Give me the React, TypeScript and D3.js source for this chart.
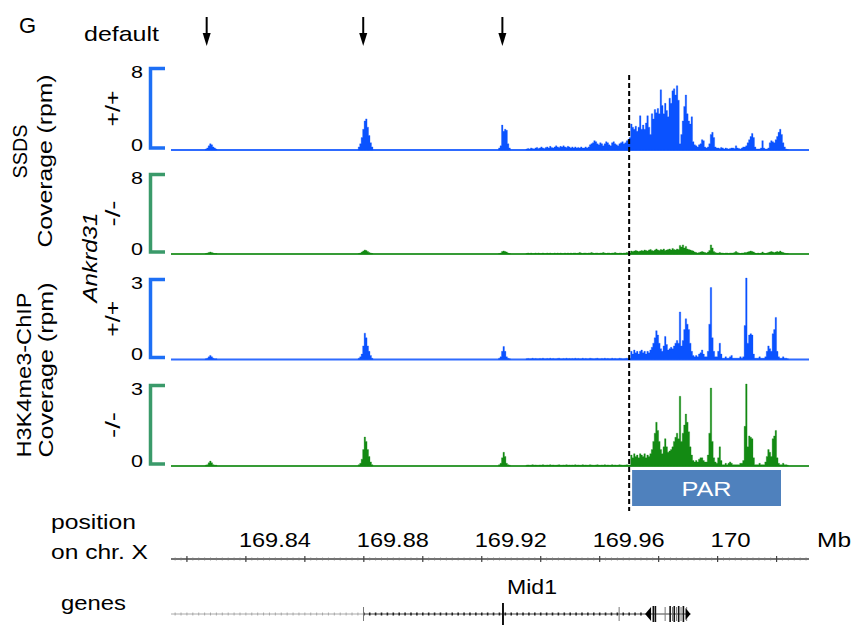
import React from "react";
import * as d3 from "d3";

// coverage is stored like a fixedStep wiggle: start (Mb) + step + values (rpm)
const STEP = 0.0005;
const parStart = 169.935;
const hotspotStarts = [169.8262, 169.8781, 169.9257];

// SSDS +/+
const ssdsWtPar = [
  0.1, 0.15, 0.1, 0.2, 0.15, 0.1, 0.2, 0.25, 0.15, 0.2,
  0.3, 0.2, 0.15, 0.25, 0.3, 0.2, 0.35, 0.25, 0.2, 0.3,
  0.4, 0.3, 0.25, 0.35, 0.3, 0.4, 0.3, 0.25, 0.35, 0.3,
  0.2, 0.3, 0.2, 0.3, 0.2, 0.25, 0.2,
  0.3, 0.2, 0.2, 0.3, 0.2, 0.3, 0.5, 0.6, 0.7,
  0.9, 0.8,
  0.6, 0.5, 0.7, 0.6, 0.4, 0.6, 0.8, 0.7, 0.5, 0.4, 0.7, 0.8, 0.6, 0.5, 0.4, 0.6, 0.7, 0.8, 0.6, 0.7, 0.9, 1.0, 1.2,
  2.5, 2.2, 2.0, 2.3, 1.8, 2.2, 3.3, 2.0, 2.4, 2.0,
  2.6, 3.3, 2.2, 1.5, 3.5, 3.0, 3.9, 3.6, 4.0, 3.5,
  5.8, 4.3, 3.5, 4.5, 3.8, 3.2, 5.0, 4.5, 5.7, 5.9,
  5.3, 6.2, 4.8, 0.6, 1.5, 2.8, 4.2, 5.3, 3.5, 2.8,
  2.5, 3.2,
  0.8, 0.5, 0.4, 0.3, 0.5, 0.6, 1.0, 0.9, 0.3, 0.2, 0.3, 0.6, 1.5, 1.7, 1.2, 0.3, 0.2,
  0.2, 0.15, 0.25, 0.2, 0.1, 0.2, 0.15, 0.1, 0.15, 0.2,
  0.2, 0.15, 0.4, 0.2, 0.15, 0.1, 0.2, 0.3, 0.3, 0.4,
  0.7, 1.0, 1.3, 1.6, 1.2, 0.3, 0.1, 0.1, 0.1, 0.2,
  0.9, 0.2, 0.1, 0.1, 0.2, 0.7, 0.9, 0.8, 0.7, 1.0,
  1.3, 1.7, 2.0, 1.5, 0.7, 0.3, 0.1, 0.05,
];
const ssdsWtHot = [
  [0.1, 0.2, 0.4, 0.6, 0.5, 0.3, 0.2, 0.1],
  [0.3, 0.6, 1.2, 2.0, 2.8, 3.0, 2.2, 1.4, 0.7, 0.3],
  [0.2, 0.4, 2.4, 1.8, 2.0, 1.9, 0.6, 0.2],
];

// SSDS -/-
const ssdsKoPar = [
  0.05, 0.1, 0.05, 0.1, 0.05, 0.05, 0.1, 0.05, 0.1, 0.05,
  0.05, 0.1, 0.05, 0.05, 0.1, 0.05, 0.1, 0.05, 0.05, 0.1,
  0.05, 0.1, 0.05, 0.1, 0.05, 0.05, 0.1, 0.05, 0.1, 0.05,
  0.1, 0.05, 0.1, 0.1, 0.05, 0.1, 0.15, 0.1, 0.05, 0.1,
  0.1, 0.05, 0.1, 0.1, 0.15, 0.1, 0.05, 0.1, 0.1, 0.05,
  0.1, 0.1, 0.15, 0.1, 0.05, 0.1, 0.1, 0.05, 0.1, 0.1,
  0.15, 0.1, 0.05, 0.1, 0.1, 0.05, 0.1, 0.1, 0.15, 0.1,
  0.1,
  0.3, 0.25, 0.3, 0.35, 0.3, 0.25, 0.3, 0.35, 0.3, 0.4,
  0.35, 0.3, 0.4, 0.45, 0.35, 0.3, 0.4, 0.5, 0.4, 0.35,
  0.45, 0.4, 0.5, 0.35, 0.4, 0.45, 0.5, 0.4, 0.55, 0.45,
  0.4, 0.5, 0.45, 0.85, 0.7, 0.9, 0.6, 0.75, 0.5, 0.45,
  0.4, 0.35, 0.3,
  0.2, 0.15, 0.1, 0.15, 0.2, 0.25, 0.2, 0.15, 0.1, 0.2, 0.35, 0.9, 0.6, 0.25, 0.15, 0.1,
  0.1, 0.15, 0.1, 0.1, 0.05, 0.1, 0.1, 0.05, 0.1, 0.1,
  0.1, 0.15, 0.25, 0.15, 0.1, 0.05, 0.1, 0.1, 0.15, 0.15,
  0.2, 0.25, 0.3, 0.25, 0.2, 0.1, 0.05, 0.1, 0.05, 0.1,
  0.2, 0.1, 0.05, 0.1, 0.15, 0.2, 0.25, 0.2, 0.15, 0.2,
  0.25, 0.2, 0.3, 0.2, 0.15, 0.1, 0.05, 0.05,
];
const ssdsKoHot = [
  [0.05, 0.1, 0.15, 0.2, 0.15, 0.1, 0.05, 0.05],
  [0.05, 0.1, 0.2, 0.3, 0.4, 0.35, 0.25, 0.15, 0.1, 0.05],
  [0.05, 0.1, 0.25, 0.3, 0.25, 0.2, 0.1, 0.05],
];

// H3K4me3 +/+
const h3k4WtPar = [
  0.03, 0.04, 0.03, 0.03, 0.05, 0.03, 0.04, 0.03, 0.03, 0.04,
  0.03, 0.05, 0.03, 0.03, 0.04, 0.03, 0.05, 0.03, 0.04, 0.03,
  0.03, 0.04, 0.05, 0.03, 0.03, 0.04, 0.03, 0.05, 0.03, 0.04,
  0.03, 0.04, 0.03, 0.05, 0.03, 0.04, 0.03, 0.03, 0.05, 0.03,
  0.04, 0.03, 0.03, 0.05, 0.04, 0.03, 0.03, 0.04, 0.05, 0.03,
  0.03, 0.04, 0.03, 0.05, 0.03, 0.04, 0.03, 0.03, 0.05, 0.03,
  0.04, 0.03, 0.03, 0.05, 0.04, 0.03, 0.03, 0.04, 0.05, 0.03,
  0.04,
  0.3, 0.2, 0.35, 0.25, 0.3, 0.2, 0.3, 0.35, 0.25, 0.3, 0.2, 0.3, 0.25, 0.35, 0.45,
  0.6, 0.8, 1.06, 0.9, 0.6,
  0.4, 0.3, 0.5,
  0.85, 0.55, 0.35,
  0.4, 0.45, 0.4, 0.5, 0.6, 0.7, 0.6,
  1.75,
  0.5, 0.7, 1.1,
  1.5, 1.3,
  1.1, 0.6,
  0.3, 0.15, 0.1, 0.15, 0.1, 0.2, 0.25, 0.35, 0.2, 0.1, 0.1, 0.3,
  1.3, 2.65, 0.8,
  0.3, 0.1, 0.1, 0.3,
  0.6, 0.2,
  0.05, 0.05, 0.1, 0.05, 0.05, 0.1, 0.15, 0.05, 0.05, 0.05, 0.05, 0.05, 0.1, 0.05, 0.1,
  1.25, 3.0, 0.6,
  0.9, 0.95, 0.9, 0.2,
  0.05, 0.05, 0.05, 0.1, 0.05, 0.05, 0.05, 0.1, 0.3,
  0.5, 0.4, 0.3,
  0.95, 1.1, 1.55,
  0.3, 0.1, 0.05, 0.05, 0.1, 0.05, 0.05, 0.03,
];
const h3k4WtHot = [
  [0.03, 0.05, 0.1, 0.15, 0.1, 0.05, 0.03, 0.03],
  [0.05, 0.1, 0.2, 0.5, 0.97, 0.8, 0.5, 0.3, 0.15, 0.05],
  [0.05, 0.1, 0.3, 0.48, 0.3, 0.1, 0.05, 0.03],
];

// H3K4me3 -/-
const h3k4KoPar = [
  0.03, 0.04, 0.03, 0.03, 0.05, 0.03, 0.04, 0.03, 0.03, 0.04,
  0.03, 0.05, 0.03, 0.03, 0.04, 0.03, 0.05, 0.03, 0.04, 0.03,
  0.03, 0.04, 0.05, 0.03, 0.03, 0.04, 0.03, 0.05, 0.03, 0.04,
  0.03, 0.04, 0.03, 0.05, 0.03, 0.04, 0.03, 0.03, 0.05, 0.03,
  0.04, 0.03, 0.03, 0.05, 0.04, 0.03, 0.03, 0.04, 0.05, 0.03,
  0.03, 0.04, 0.03, 0.05, 0.03, 0.04, 0.03, 0.03, 0.05, 0.03,
  0.04, 0.03, 0.03, 0.05, 0.04, 0.03, 0.03, 0.04, 0.05, 0.03,
  0.04,
  0.4, 0.3, 0.45, 0.35, 0.4, 0.3, 0.45, 0.4, 0.35, 0.45, 0.3, 0.4, 0.35, 0.45, 0.6,
  0.9, 1.2, 1.6, 1.3, 0.9,
  0.6, 0.45, 0.7,
  1.0, 0.7, 0.5,
  0.55, 0.6, 0.7, 0.9, 1.05, 1.2, 1.0,
  2.55,
  0.9, 1.2, 1.5,
  1.9, 1.6,
  1.25, 0.7,
  0.4, 0.2, 0.15, 0.2, 0.15, 0.25, 0.3, 0.3, 0.2, 0.15, 0.15, 0.4,
  1.2, 2.85, 0.9,
  0.3, 0.15, 0.1, 0.3,
  0.7, 0.2,
  0.05, 0.05, 0.1, 0.05, 0.1, 0.15, 0.1, 0.05, 0.05, 0.05, 0.05, 0.05, 0.1, 0.1, 0.2,
  1.45, 3.05, 0.7,
  1.1, 1.05, 1.0, 0.3,
  0.05, 0.05, 0.05, 0.1, 0.05, 0.05, 0.05, 0.15, 0.35,
  0.6, 0.5, 0.35,
  1.0, 1.1, 1.3,
  0.3, 0.1, 0.05, 0.05, 0.1, 0.05, 0.05, 0.03,
];
const h3k4KoHot = [
  [0.03, 0.05, 0.12, 0.18, 0.12, 0.05, 0.03, 0.03],
  [0.05, 0.1, 0.25, 0.6, 1.06, 0.9, 0.6, 0.35, 0.15, 0.05],
  [0.05, 0.1, 0.3, 0.5, 0.35, 0.1, 0.05, 0.03],
];

// default hotspots (arrows), PAR boundary and region (Mb)
const arrowsMb = [169.8267, 169.8798, 169.927];
const parBoundaryMb = 169.97;
const parRegionMb = [169.971, 170.0215];
const axisLabelsMb = [169.84, 169.88, 169.92, 169.96, 170];

// Mid1 gene model (Mb)
const geneSpanMb = [169.8146, 169.9908];
const geneDenseFromMb = 169.8799;
const exonThinMb = [169.8799, 169.9666, 169.9822, 169.9847, 169.9861, 169.9876, 169.9895];
const exonThickMb = [169.9272, 169.9782, 169.9789, 169.9839, 169.9853, 169.9868, 169.9884];
const strandTipsMb = [169.9754, 169.9908];

const BLUE = "#0a52ff";
const BLUE_BR = "#1d6ff5";
const GREEN = "#138a13";
const GREEN_BR = "#3a9a6a";
const FONT = "'Liberation Sans', Arial, sans-serif";

const tracks = [
  { lab: "+/+", max: 8, top: 67, base: 150, color: BLUE, br: BLUE_BR, par: ssdsWtPar, hot: ssdsWtHot },
  { lab: "-/-", max: 8, top: 173, base: 254, color: GREEN, br: GREEN_BR, par: ssdsKoPar, hot: ssdsKoHot },
  { lab: "+/+", max: 3, top: 278, base: 359.5, color: BLUE, br: BLUE_BR, par: h3k4WtPar, hot: h3k4WtHot },
  { lab: "-/-", max: 3, top: 384, base: 466, color: GREEN, br: GREEN_BR, par: h3k4KoPar, hot: h3k4KoHot },
];

const x = d3.scaleLinear().domain([169.8146, 170.031]).range([171, 809]);

type Pt = [number, number];

function Label(p: {
  x: number; y: number; text: string; size: number; len?: number;
  rot?: number; anchor?: string; italic?: boolean; fill?: string;
}) {
  return (
    <text
      transform={`translate(${p.x},${p.y}) rotate(${p.rot ?? 0})`}
      fontSize={p.size}
      fontStyle={p.italic ? "italic" : "normal"}
      textAnchor={p.anchor ?? "start"}
      fill={p.fill ?? "#000"}
      textLength={p.len}
      lengthAdjust={p.len ? "spacingAndGlyphs" : undefined}
    >
      {p.text}
    </text>
  );
}

function Track({ t }: { t: (typeof tracks)[number] }) {
  const y = d3.scaleLinear().domain([0, t.max]).range([t.base, t.top]);
  const area = d3
    .area<Pt>()
    .x((d) => x(d[0]))
    .y0(t.base)
    .y1((d) => y(Math.min(d[1], t.max)))
    .curve(d3.curveStepAfter);
  const segs = [
    { start: parStart, values: t.par },
    ...hotspotStarts.map((s, k) => ({ start: s, values: t.hot[k] })),
  ];
  const [d0, d1] = x.domain();
  const bx = 150.5;
  return (
    <g>
      {/* scale bracket */}
      <path
        d={`M165,${t.top + 1.5}H${bx}V${t.base - 2}H165`}
        fill="none"
        stroke={t.br}
        strokeWidth={3.5}
      />
      <Label x={143} y={t.top + 10.5} text={String(t.max)} size={17} len={12} anchor="end" />
      <Label x={143} y={t.base + 0.5} text="0" size={17} len={12} anchor="end" />
      <text
        transform={`translate(112,${(t.top + t.base) / 2}) rotate(-90)`}
        fontSize={21}
        textAnchor="middle"
        dominantBaseline="central"
        textLength={t.lab === "+/+" ? 36 : 26}
        lengthAdjust="spacingAndGlyphs"
      >
        {t.lab}
      </text>
      {/* baseline */}
      <line x1={x(d0)} x2={x(d1)} y1={t.base} y2={t.base} stroke={t.color} strokeWidth={1.8} opacity={0.85} />
      {segs.map((s, k) => {
        const pts: Pt[] = s.values.map((v, i) => [s.start + i * STEP, v] as Pt);
        pts.push([s.start + s.values.length * STEP, 0]);
        return <path key={k} d={area(pts) ?? ""} fill={t.color} stroke={t.color} strokeWidth={0.5} strokeOpacity={0.6} />;
      })}
    </g>
  );
}

export default function App() {
  const axisY = 559;
  const geneY = 614;
  const major = x.ticks(10);
  const minor = x.ticks(100);
  const chevrons = x.ticks(110).filter((v) => v >= geneSpanMb[0] && v <= strandTipsMb[0]);
  return (
    <div style={{ position: "absolute", left: 0, top: 0 }}>
      <svg width={853} height={625} style={{ display: "block", fontFamily: FONT }}>
        <rect width={853} height={625} fill="#fff" />
        <Label x={19} y={33} text="G" size={22} />
        <Label x={84} y={41} text="default" size={21} len={75} />
        {arrowsMb.map((m, i) => (
          <g key={i}>
            <line x1={x(m)} x2={x(m)} y1={17} y2={36} stroke="#000" strokeWidth={2} />
            <path d={`M${x(m) - 4},${33}L${x(m) + 4},${33}L${x(m)},${46}Z`} fill="#000" />
          </g>
        ))}

        {/* left group labels */}
        <Label x={27} y={151.5} text="SSDS" size={20} len={54} rot={-90} anchor="middle" />
        <Label x={52} y={161} text="Coverage (rpm)" size={20} len={173} rot={-90} anchor="middle" />
        <Label x={97} y={257.5} text="Ankrd31" size={21} len={90} rot={-90} anchor="middle" italic />
        <Label x={31} y={375} text="H3K4me3-ChIP" size={21} len={165} rot={-90} anchor="middle" />
        <Label x={53} y={370} text="Coverage (rpm)" size={20} len={175} rot={-90} anchor="middle" />

        {tracks.map((t, i) => (
          <Track key={i} t={t} />
        ))}

        {/* PAR boundary */}
        <line
          x1={x(parBoundaryMb)}
          x2={x(parBoundaryMb)}
          y1={75}
          y2={511}
          stroke="#000"
          strokeWidth={2}
          strokeDasharray="5,3"
        />
        <rect
          x={x(parRegionMb[0])}
          y={470}
          width={x(parRegionMb[1]) - x(parRegionMb[0])}
          height={36}
          fill="#4f81bd"
        />
        <Label
          x={(x(parRegionMb[0]) + x(parRegionMb[1])) / 2}
          y={496}
          text="PAR"
          size={21}
          len={50}
          anchor="middle"
          fill="#fff"
        />

        {/* chromosome axis */}
        <Label x={51} y={529} text="position" size={21} len={85} />
        <Label x={51} y={559} text="on chr. X" size={21} len={97} />
        <line x1={x.range()[0]} x2={x.range()[1]} y1={axisY} y2={axisY} stroke="#444" strokeWidth={1.6} />
        {minor.map((m, i) => (
          <line key={i} x1={x(m)} x2={x(m)} y1={axisY - 1.5} y2={axisY + 1.5} stroke="#777" strokeWidth={0.7} />
        ))}
        {major.map((m, i) => (
          <line key={i} x1={x(m)} x2={x(m)} y1={axisY - 3} y2={axisY + 3} stroke="#444" strokeWidth={1.2} />
        ))}
        {axisLabelsMb.map((m, i) => (
          <Label
            key={i}
            x={x(m) - 7}
            y={546.5}
            text={String(m)}
            size={21}
            len={String(m).length === 3 ? 40 : 72}
          />
        ))}
        <Label x={817} y={546.5} text="Mb" size={21} len={34} />

        {/* genes */}
        <Label x={61} y={610} text="genes" size={21} len={65} />
        <Label x={507} y={594} text="Mid1" size={21} len={50} />
        <line
          x1={x(geneSpanMb[0])}
          x2={x(geneDenseFromMb)}
          y1={geneY}
          y2={geneY}
          stroke="#aaa"
          strokeWidth={1}
        />
        <line
          x1={x(geneDenseFromMb)}
          x2={x(geneSpanMb[1])}
          y1={geneY}
          y2={geneY}
          stroke="#444"
          strokeWidth={1.2}
        />
        {chevrons.map((m, i) => (
          <line
            key={i}
            x1={x(m)}
            x2={x(m)}
            y1={geneY - 1.5}
            y2={geneY + 1.5}
            stroke={m < geneDenseFromMb ? "#999" : "#222"}
            strokeWidth={m < geneDenseFromMb ? 0.8 : 1.6}
          />
        ))}
        {exonThinMb.map((m, i) => (
          <line key={i} x1={x(m)} x2={x(m)} y1={geneY - 7} y2={geneY + 7} stroke="#777" strokeWidth={1} />
        ))}
        {exonThickMb.map((m, i) => (
          <line
            key={i}
            x1={x(m)}
            x2={x(m)}
            y1={geneY - (i === 0 ? 11 : 8)}
            y2={geneY + (i === 0 ? 11 : 8)}
            stroke="#111"
            strokeWidth={i === 0 ? 2 : 1.6}
          />
        ))}
        <path
          d={`M${x(strandTipsMb[0])},${geneY}L${x(strandTipsMb[0]) + 6},${geneY - 7}L${x(strandTipsMb[0]) + 6},${geneY + 7}Z`}
          fill="#000"
        />
        <path
          d={`M${x(strandTipsMb[1])},${geneY}L${x(strandTipsMb[1]) - 5},${geneY - 6}L${x(strandTipsMb[1]) - 5},${geneY + 6}Z`}
          fill="#000"
        />
      </svg>
    </div>
  );
}
